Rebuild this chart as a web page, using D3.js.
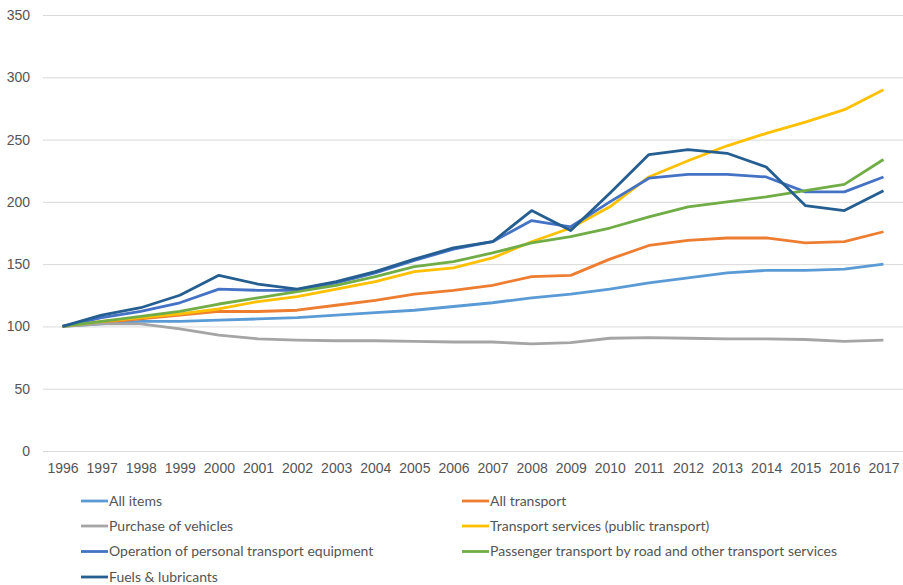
<!DOCTYPE html>
<html>
<head>
<meta charset="utf-8">
<script src="https://cdn.jsdelivr.net/npm/d3@7"></script>
<style>
  body { margin: 0; background: #fff; }
  svg { display: block; font-family: Lato, "Open Sans", sans-serif; }
</style>
</head>
<body>
<svg id="chart" width="903" height="585"></svg>
<script>
// ----------------------------
// Data
// ----------------------------
const years = ["1996","1997","1998","1999","2000","2001","2002","2003","2004","2005","2006",
               "2007","2008","2009","2010","2011","2012","2013","2014","2015","2016","2017"];

const allItems     = [100,102,104,104,105,106,107,109,111,113,116,119,123,126,130,135,139,143,145,145,146,150];
const allTransport = [100,103,106,109,112,112,113,117,121,126,129,133,140,141,154,165,169,171,171,167,168,176];
const purchase     = [100,102,102,98,93,90,89,88.5,88.5,88,87.5,87.5,86,87,90.5,91,90.5,90,90,89.5,88,89];
const services     = [100,104,107,110,114,120,124,130,136,144,147,155,168,179,196,220,233,245,255,264,274,290];
const operation    = [100,107,112,119,130,129,129,135,143,153,162,168,185,180,200,219,222,222,220,208,208,220];
const passenger    = [100,104,108,112,118,123,128,133,140,148,152,159,167,172,179,188,196,200,204,209,214,234];
const fuels        = [100,109,115,125,141,134,130,136,144,154,163,168,193,177,207,238,242,239,228,197,193,209];

const yTicks = [0,50,100,150,200,250,300,350];

const series = [
  { name: "All items", values: allItems, color: "#5b9bd5" },
  { name: "All transport", values: allTransport, color: "#ed7d31" },
  { name: "Purchase of vehicles", values: purchase, color: "#a5a5a5" },
  { name: "Transport services (public transport)", values: services, color: "#ffc000" },
  { name: "Operation of personal transport equipment", values: operation, color: "#4472c4" },
  { name: "Passenger transport by road and other transport services", values: passenger, color: "#70ad47" },
  { name: "Fuels & lubricants", values: fuels, color: "#255e91" }
];

// ----------------------------
// Plot
// ----------------------------
const svg = d3.select("#chart");
const margin = { top: 15, right: 0, bottom: 134, left: 43 };
const innerW = 903 - margin.left - margin.right;
const innerH = 585 - margin.top - margin.bottom;

const g = svg.append("g").attr("transform", `translate(${margin.left},${margin.top})`);

const x = d3.scalePoint().domain(years).range([0, innerW]).padding(0.5);
const y = d3.scaleLinear().domain([0, 350]).range([innerH, 0]);

// gridlines + y labels
const yAxis = g.append("g")
  .call(d3.axisLeft(y).tickValues(yTicks).tickSize(-innerW).tickPadding(13));
yAxis.select(".domain").remove();
yAxis.selectAll(".tick line").attr("stroke", "#d9d9d9").attr("stroke-width", 1);
yAxis.selectAll(".tick text").attr("fill", "#555").style("font-size", "14px");

// x labels
const xAxis = g.append("g")
  .attr("transform", `translate(0,${innerH})`)
  .call(d3.axisBottom(x).tickSize(0).tickPadding(12));
xAxis.select(".domain").remove();
xAxis.selectAll(".tick text").attr("fill", "#555").style("font-size", "14px");

const line = d3.line()
  .x((d, i) => x(years[i]))
  .y(d => y(d));

series.forEach(s => {
  g.append("path")
    .datum(s.values)
    .attr("fill", "none")
    .attr("stroke", s.color)
    .attr("stroke-width", 2.8)
    .attr("stroke-linejoin", "round")
    .attr("d", line);
});

// ----------------------------
// Legend
// ----------------------------
const legend = svg.append("g");
const colX = [81, 462];
const rowY = [501, 526, 551.5, 577];

series.forEach((s, i) => {
  const lx = colX[i % 2];
  const ly = rowY[Math.floor(i / 2)];
  const item = legend.append("g").attr("transform", `translate(${lx},${ly})`);
  item.append("line")
    .attr("x1", 0).attr("x2", 27)
    .attr("stroke", s.color).attr("stroke-width", 2.8);
  item.append("text")
    .attr("x", 28).attr("dy", "0.35em")
    .attr("fill", "#555")
    .style("font-size", "14px")
    .text(s.name);
});
</script>
</body>
</html>
